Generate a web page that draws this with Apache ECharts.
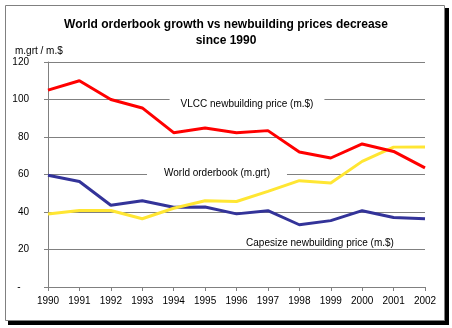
<!DOCTYPE html>
<html>
<head>
<meta charset="utf-8">
<script src="https://cdn.jsdelivr.net/npm/echarts@6/dist/echarts.min.js"></script>
<style>html,body{margin:0;padding:0;background:#fff}#c{width:452px;height:328px}</style>
</head>
<body>
<div id="c"></div>
<script>
var years = ['1990','1991','1992','1993','1994','1995','1996','1997','1998','1999','2000','2001','2002'];
var vlccPrice = [105, 110, 100, 95.5, 82.3, 84.8, 82.3, 83.4, 72, 68.8, 76.3, 72.3, 63.5];
var orderbook = [38.9, 40.8, 40.8, 36.4, 42, 46, 45.6, 51, 56.7, 55.5, 67, 74.6, 74.7];
var capesizePrice = [59.6, 56.3, 43.6, 46, 42.5, 42.7, 39, 40.7, 33.2, 35.4, 40.7, 37.1, 36.4];
var yTicks = [0, 20, 40, 60, 80, 100, 120];

var chart = echarts.init(document.getElementById('c'));
var F = 'Liberation Sans, Arial, sans-serif';
chart.setOption({
  animation: false,
  title: {
    text: 'World orderbook growth vs newbuilding prices decrease\nsince 1990',
    left: 'center', top: 12,
    textStyle: {fontFamily: F, fontSize: 12, fontWeight: 'bold', color: '#000', lineHeight: 16}
  },
  grid: {left: 48, right: 27, top: 62, bottom: 41, containLabel: false},
  xAxis: {
    type: 'category', data: years, boundaryGap: false,
    axisLine: {lineStyle: {color: '#808080', width: 1}},
    axisTick: {show: true, length: 4, lineStyle: {color: '#808080'}},
    axisLabel: {fontFamily: F, fontSize: 10, color: '#000', margin: 9}
  },
  yAxis: {
    type: 'value', min: yTicks[0], max: yTicks[yTicks.length-1], interval: 20,
    name: 'm.grt / m.$', nameLocation: 'end', nameGap: 6,
    nameTextStyle: {fontFamily: F, fontSize: 10, color: '#000', align: 'left', padding: [0,0,0,-33]},
    axisLine: {show: true, lineStyle: {color: '#808080', width: 1}},
    axisTick: {show: true, length: 4, lineStyle: {color: '#808080'}},
    axisLabel: {fontFamily: F, fontSize: 10, color: '#000', margin: 19,
      formatter: function(v){ return v === 0 ? '-   ' : String(v); }},
    splitLine: {show: true, lineStyle: {color: '#808080', width: 1}}
  },
  series: [
    {name: 'VLCC newbuilding price (m.$)', type: 'line', data: vlccPrice, symbol: 'none',
     lineStyle: {color: '#FF0000', width: 3}, z: 5},
    {name: 'World orderbook (m.grt)', type: 'line', data: orderbook, symbol: 'none',
     lineStyle: {color: '#FFE633', width: 3}, z: 4},
    {name: 'Capesize newbuilding price (m.$)', type: 'line', data: capesizePrice, symbol: 'none',
     lineStyle: {color: '#333399', width: 3}, z: 3}
  ],
  graphic: [
    {type: 'rect', z: -100, shape: {x: 8, y: 8, width: 441, height: 317}, style: {fill: '#000'}},
    {type: 'rect', z: -99, shape: {x: 5.5, y: 5.5, width: 439, height: 315}, style: {fill: '#fff', stroke: '#808080', lineWidth: 1}},
    {type: 'text', z: 1, x: 247, y: 104, style: {text: 'VLCC newbuilding price (m.$)', fontFamily: F, fontSize: 10, fill: '#000',
      align: 'center', verticalAlign: 'middle', backgroundColor: '#fff', padding: [2, 11]}},
    {type: 'text', z: 1, x: 217, y: 173, style: {text: 'World orderbook (m.grt)', fontFamily: F, fontSize: 10, fill: '#000',
      align: 'center', verticalAlign: 'middle', backgroundColor: '#fff', padding: [2, 17]}},
    {type: 'text', z: 1, x: 320, y: 243, style: {text: 'Capesize newbuilding price (m.$)', fontFamily: F, fontSize: 10, fill: '#000',
      align: 'center', verticalAlign: 'middle'}}
  ]
});
</script>
</body>
</html>
